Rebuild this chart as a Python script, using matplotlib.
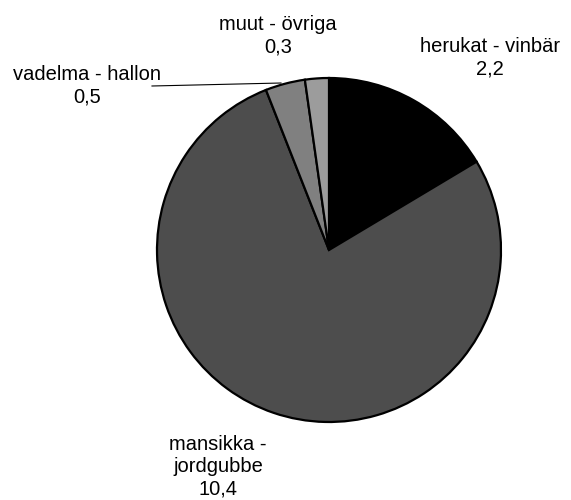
import matplotlib.pyplot as plt

plt.rcParams['font.family'] = ['Liberation Sans', 'DejaVu Sans']

labels = ['herukat - vinbär', 'mansikka -\njordgubbe', 'vadelma - hallon', 'muut - övriga']
values = [2.2, 10.4, 0.5, 0.3]
value_text = ['2,2', '10,4', '0,5', '0,3']
colors = ['#000000', '#4d4d4d', '#808080', '#9c9c9c']

fig = plt.figure(figsize=(5.71, 5.0), dpi=100)
ax = fig.add_axes([0, 0, 1, 1])
ax.set_xlim(0, 571)
ax.set_ylim(500, 0)
ax.set_aspect('equal')
ax.axis('off')

# pie in pixel coordinates (y axis inverted, so counterclock flips)
wedges, _ = ax.pie(values, colors=colors, startangle=-90, counterclock=True,
                   center=(329, 250), radius=172, frame=True,
                   wedgeprops=dict(edgecolor='black', linewidth=1.6))
ax.set_xlim(0, 571)
ax.set_ylim(500, 0)
ax.axis('off')

fs = 14.5
pos = [(490, 58), (218, 467), (87, 86), (278, 36)]
for lab, vt, (x, y) in zip(labels, value_text, pos):
    ax.text(x, y, lab + '\n' + vt, ha='center', va='center', fontsize=fs,
            linespacing=1.2)

# leader line for vadelma
ax.plot([152, 281], [86, 83], color='black', linewidth=0.8)

fig.savefig('out.png', dpi=100)
